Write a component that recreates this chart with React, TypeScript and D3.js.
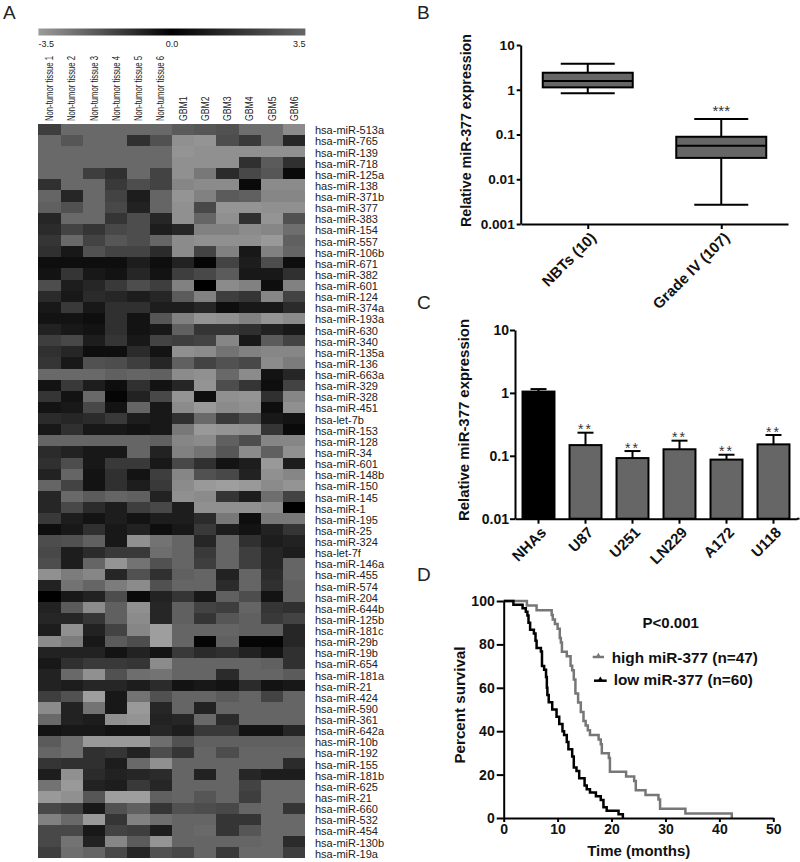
import React, { useRef, useEffect } from "react";
import * as d3 from "d3";

// Panel A: heatmap, cell levels (grey level of every cell)
const columnLabels = [
  "Non-tumor tissue 1", "Non-tumor tissue 2", "Non-tumor tissue 3",
  "Non-tumor tissue 4", "Non-tumor tissue 5", "Non-tumor tissue 6",
  "GBM1", "GBM2", "GBM3", "GBM4", "GBM5", "GBM6",
];
const rowLabels = [
  "hsa-miR-513a", "hsa-miR-765", "hsa-miR-139", "hsa-miR-718", "hsa-miR-125a", "has-miR-138",
  "hsa-miR-371b", "hsa-miR-377", "hsa-miR-383", "hsa-miR-154", "hsa-miR-557", "hsa-miR-106b",
  "hsa-miR-671", "hsa-miR-382", "hsa-miR-601", "hsa-miR-124", "hsa-miR-374a", "hsa-miR-193a",
  "hsa-miR-630", "hsa-miR-340", "hsa-miR-135a", "hsa-miR-136", "hsa-miR-663a", "hsa-miR-329",
  "hsa-miR-328", "hsa-miR-451", "hsa-let-7b", "hsa-miR-153", "hsa-miR-128", "hsa-miR-34",
  "hsa-miR-601", "hsa-miR-148b", "hsa-miR-150", "hsa-miR-145", "hsa-miR-1", "hsa-miR-195",
  "hsa-miR-25", "hsa-miR-324", "hsa-let-7f", "hsa-miR-146a", "hsa-miR-455", "hsa-miR-574",
  "hsa-miR-204", "hsa-miR-644b", "hsa-miR-125b", "hsa-miR-181c", "hsa-miR-29b", "hsa-miR-19b",
  "hsa-miR-654", "hsa-miR-181a", "hsa-miR-21", "hsa-miR-424", "hsa-miR-590", "hsa-miR-361",
  "hsa-miR-642a", "has-miR-10b", "hsa-miR-192", "hsa-miR-155", "hsa-miR-181b", "hsa-miR-625",
  "has-miR-21", "hsa-miR-660", "hsa-miR-532", "hsa-miR-454", "hsa-miR-130b", "hsa-miR-19a",
];
const heatRows = [
  [65, 110, 110, 110, 110, 110, 95, 90, 85, 115, 115, 145],
  [110, 90, 110, 110, 50, 85, 150, 155, 80, 60, 115, 40],
  [110, 110, 110, 110, 110, 110, 155, 150, 150, 150, 150, 150],
  [110, 110, 110, 110, 110, 110, 150, 150, 150, 50, 95, 50],
  [110, 110, 65, 50, 110, 70, 150, 125, 45, 75, 90, 10],
  [50, 110, 110, 60, 80, 70, 140, 145, 145, 10, 145, 145],
  [105, 40, 110, 70, 30, 105, 155, 135, 95, 100, 140, 140],
  [100, 85, 110, 75, 35, 105, 150, 75, 155, 155, 150, 150],
  [40, 110, 110, 55, 80, 40, 150, 105, 150, 50, 155, 85],
  [45, 70, 55, 75, 80, 30, 40, 135, 135, 145, 140, 115],
  [55, 110, 70, 90, 80, 105, 145, 150, 150, 150, 160, 100],
  [50, 25, 85, 70, 70, 45, 145, 70, 135, 25, 135, 105],
  [15, 15, 15, 15, 30, 15, 35, 5, 70, 30, 80, 15],
  [20, 55, 25, 20, 40, 20, 65, 75, 95, 25, 25, 50],
  [80, 30, 40, 60, 80, 65, 135, 0, 145, 135, 15, 135],
  [45, 25, 45, 40, 30, 40, 95, 135, 65, 55, 140, 70],
  [25, 60, 25, 50, 50, 30, 30, 40, 15, 25, 25, 45],
  [20, 20, 15, 50, 20, 90, 135, 155, 150, 135, 155, 145],
  [35, 25, 20, 50, 20, 25, 100, 55, 55, 50, 35, 25],
  [65, 75, 30, 55, 25, 70, 65, 70, 140, 25, 95, 70],
  [50, 40, 15, 15, 45, 20, 150, 145, 120, 135, 140, 140],
  [55, 25, 85, 80, 65, 40, 100, 70, 85, 75, 145, 130],
  [110, 110, 110, 100, 105, 100, 145, 150, 110, 145, 20, 40],
  [20, 60, 30, 15, 50, 20, 40, 155, 80, 55, 15, 70],
  [55, 20, 110, 5, 35, 75, 155, 15, 150, 155, 50, 140],
  [20, 25, 75, 20, 105, 25, 145, 160, 145, 150, 15, 150],
  [45, 40, 45, 60, 30, 25, 50, 110, 60, 80, 25, 20],
  [25, 50, 25, 25, 20, 25, 125, 160, 155, 150, 55, 10],
  [105, 105, 105, 105, 105, 100, 140, 145, 100, 80, 140, 140],
  [45, 35, 25, 25, 105, 35, 135, 120, 90, 145, 100, 150],
  [50, 80, 25, 60, 60, 25, 75, 50, 20, 30, 160, 30],
  [35, 105, 20, 50, 20, 65, 140, 85, 75, 35, 150, 140],
  [105, 70, 20, 50, 30, 60, 145, 160, 165, 160, 145, 155],
  [40, 110, 95, 105, 100, 35, 150, 145, 55, 30, 115, 70],
  [40, 75, 45, 30, 65, 75, 30, 150, 150, 150, 145, 0],
  [60, 30, 20, 30, 20, 30, 30, 45, 125, 15, 125, 125],
  [15, 25, 50, 25, 35, 15, 25, 60, 30, 20, 35, 55],
  [80, 85, 100, 25, 150, 120, 105, 40, 105, 50, 30, 35],
  [75, 30, 45, 60, 60, 115, 105, 60, 105, 65, 40, 30],
  [80, 30, 105, 155, 120, 85, 105, 65, 105, 65, 40, 105],
  [150, 130, 140, 40, 85, 50, 100, 105, 35, 105, 45, 105],
  [35, 120, 105, 130, 145, 85, 105, 105, 45, 105, 50, 100],
  [0, 25, 35, 80, 10, 35, 55, 25, 100, 80, 20, 100],
  [35, 95, 145, 100, 150, 40, 100, 70, 65, 105, 55, 50],
  [40, 40, 55, 100, 145, 40, 100, 55, 90, 100, 60, 70],
  [30, 150, 35, 70, 140, 165, 105, 105, 105, 100, 100, 40],
  [145, 130, 25, 95, 80, 165, 105, 5, 100, 5, 5, 40],
  [35, 35, 35, 20, 35, 20, 60, 45, 50, 35, 20, 50],
  [25, 50, 60, 60, 55, 145, 105, 105, 105, 105, 100, 50],
  [35, 110, 150, 85, 115, 120, 105, 105, 45, 105, 105, 95],
  [35, 30, 40, 40, 30, 45, 20, 25, 20, 45, 20, 25],
  [65, 85, 165, 25, 120, 85, 105, 105, 95, 105, 70, 105],
  [145, 35, 120, 25, 160, 40, 105, 35, 105, 105, 105, 105],
  [110, 35, 30, 150, 155, 35, 40, 110, 45, 105, 105, 105],
  [20, 25, 25, 20, 20, 40, 30, 60, 60, 20, 20, 40],
  [95, 115, 160, 160, 160, 115, 85, 100, 100, 100, 100, 100],
  [105, 115, 50, 55, 35, 80, 55, 105, 80, 105, 105, 105],
  [55, 50, 50, 30, 110, 150, 105, 105, 105, 105, 105, 45],
  [30, 150, 45, 35, 40, 45, 105, 35, 105, 40, 30, 30],
  [120, 160, 35, 30, 60, 40, 105, 105, 105, 70, 110, 110],
  [160, 150, 90, 165, 165, 100, 105, 90, 105, 65, 110, 110],
  [75, 65, 25, 85, 100, 55, 85, 80, 75, 105, 110, 55],
  [135, 110, 160, 55, 135, 115, 105, 105, 55, 55, 110, 110],
  [75, 75, 25, 70, 65, 30, 105, 110, 55, 90, 110, 110],
  [75, 120, 35, 140, 95, 155, 105, 105, 105, 105, 110, 45],
  [65, 115, 105, 75, 40, 85, 75, 105, 60, 110, 110, 65],
];
const colorBarStops = [-3.5, 0, 3.5];
const colorBarLabels = ["-3.5", "0.0", "3.5"];

// Panel B: box plot
const boxGroups = ["NBTs (10)", "Grade IV (107)"];
const boxLow = [0.83, 0.0027];
const boxQ1 = [1.13, 0.03];
const boxMedian = [1.57, 0.056];
const boxQ3 = [2.4, 0.089];
const boxHigh = [3.8, 0.222];

// Panel C: bars
const cellLines = ["NHAs", "U87", "U251", "LN229", "A172", "U118"];
const cellValues = [1.05, 0.148, 0.092, 0.127, 0.087, 0.152];
const cellErrorTops = [1.15, 0.233, 0.119, 0.174, 0.104, 0.214];
const cellStars = ["", "**", "**", "**", "**", "**"];

// Panel D: survival curves
const highTimes = [0, 4.3, 6.1, 8.9, 9.1, 9.5, 10, 10.4, 10.6, 10.8, 11.7, 12.4, 12.7, 13, 13.3, 13.8, 14.3, 14.8, 15.2, 15.6, 16, 17.6, 18, 18.2, 19.5, 19.7, 22.7, 24.2, 24.5, 26.3, 28.7, 29, 33.7, 42.3];
const highSurvival = [100, 97.9, 95.7, 93.6, 91.5, 89.4, 87.2, 83, 80.9, 76.6, 74.5, 70.2, 68.1, 63.8, 57.4, 53.2, 48.9, 44.7, 42.6, 40.4, 38.3, 36.2, 34, 29.8, 27.7, 21.3, 19.1, 17, 12.8, 10.6, 8.5, 4.3, 2.1, 0];
const lowTimes = [0, 1.8, 3.5, 4.1, 4.4, 4.6, 4.9, 5.6, 5.9, 6.1, 6.9, 7.1, 7.5, 7.85, 8, 8.1, 8.35, 9, 9.8, 10.3, 10.9, 11.2, 11.7, 12, 12.7, 13, 13.5, 14, 15, 15.4, 16, 17.1, 18, 18.5, 19.1, 21.3, 22.1];
const lowSurvival = [100, 98.3, 96.7, 95, 93.3, 90, 86.7, 85, 81.7, 78.3, 76.7, 70, 68.3, 65, 60, 56.7, 53.3, 50, 46.7, 43.3, 40, 38.3, 35, 31.7, 28.3, 23.3, 21.7, 18.3, 15, 13.3, 11.7, 10, 8.3, 5, 3.3, 1.7, 0];

const FONT = "'Liberation Sans', Arial, sans-serif";

const App = () => {
  const svgRef = useRef<SVGSVGElement>(null);

  useEffect(() => {
    const svg = d3.select(svgRef.current);
    svg.selectAll("*").remove();
    svg.attr("font-family", FONT);

    // panel letters
    const letters: [string, number, number][] = [["A", 3, 19], ["B", 417, 18.5], ["C", 417, 309], ["D", 417, 581]];
    svg.selectAll(".letter").data(letters).join("text")
      .attr("class", "letter")
      .attr("x", (d) => d[1]).attr("y", (d) => d[2])
      .attr("font-size", 19).attr("fill", "#222")
      .text((d) => d[0]);

    drawHeatmap(svg);
    drawBoxes(svg);
    drawBars(svg);
    drawSurvival(svg);
  }, []);

  return <svg ref={svgRef} width={800} height={862} style={{ position: "absolute", left: 0, top: 0, background: "#fff" }} />;
};

function drawHeatmap(svg) {
  const x = d3.scaleBand().domain(columnLabels).range([38.4, 305.4]);
  const y = d3.scaleBand().domain(d3.range(rowLabels.length).map(String)).range([123.7, 858.2]);
  const shade = d3.scaleLinear().domain([0, 165]).range(["#000000", "#9e9e9e"]);

  // colour bar
  const barColor = d3.scaleLinear().domain(colorBarStops).range(["#9c9c9c", "#000000", "#666666"]);
  const barX = d3.scaleLinear().domain([-3.5, 3.5]).range([38.4, 305.4]);
  const grad = svg.append("defs").append("linearGradient").attr("id", "bar");
  grad.selectAll("stop").data(colorBarStops).join("stop")
    .attr("offset", (d) => (d + 3.5) / 7)
    .attr("stop-color", (d) => barColor(d));
  svg.append("rect")
    .attr("x", barX(-3.5)).attr("y", 28.5)
    .attr("width", barX(3.5) - barX(-3.5)).attr("height", 7)
    .attr("fill", "url(#bar)");
  svg.selectAll(".barlabel").data(colorBarStops).join("text")
    .attr("class", "barlabel")
    .attr("x", (d) => barX(d))
    .attr("y", 46.5)
    .attr("font-size", 9).attr("fill", "#222")
    .attr("text-anchor", (d) => (d < 0 ? "start" : d > 0 ? "end" : "middle"))
    .text((d, i) => colorBarLabels[i]);

  // cells
  const g = svg.append("g").attr("shape-rendering", "crispEdges");
  heatRows.forEach((row, r) => {
    g.selectAll(`.r${r}`).data(row).join("rect")
      .attr("class", `r${r}`)
      .attr("x", (d, i) => x(columnLabels[i]))
      .attr("y", y(String(r)))
      .attr("width", x.bandwidth())
      .attr("height", y.bandwidth())
      .attr("fill", (d) => shade(d));
  });

  // column labels, squeezed along the text like the original
  svg.selectAll(".collabel").data(columnLabels).join("text")
    .attr("class", "collabel")
    .attr("transform", (d) => `translate(${x(d) + x.bandwidth() / 2 + 3.5},121) rotate(-90)`)
    .attr("font-size", 11).attr("fill", "#222")
    .attr("textLength", (d) => (d.startsWith("GBM") ? 24.5 : 65))
    .attr("lengthAdjust", "spacingAndGlyphs")
    .text((d) => d);

  svg.selectAll(".rowlabel").data(rowLabels).join("text")
    .attr("class", "rowlabel")
    .attr("x", 315)
    .attr("y", (d, i) => y(String(i)) + y.bandwidth() / 2 + 5)
    .attr("font-size", 11).attr("fill", "#222")
    .text((d) => d);
}

// shared axis look for the graphpad style panels
function styleAxis(g, fontSize = 14) {
  g.attr("font-family", FONT).attr("font-size", fontSize).attr("font-weight", "bold");
  g.selectAll("path,line").attr("stroke", "#000").attr("stroke-width", 2);
  g.selectAll("text").attr("fill", "#111");
}

function rotateLabels(g, dx, dy) {
  g.attr("font-size", 15);
  g.selectAll("text")
    .attr("x", 0).attr("y", 0).attr("dy", "0.35em")
    .attr("text-anchor", "end")
    .attr("transform", `translate(${dx},${dy}) rotate(-45)`);
}

function yTitle(svg, text, x, cy, len, size = 14.2) {
  svg.append("text")
    .attr("transform", `translate(${x},${cy}) rotate(-90)`)
    .attr("text-anchor", "middle")
    .attr("font-size", size).attr("font-weight", "bold").attr("fill", "#111")
    .attr("textLength", len).attr("lengthAdjust", "spacingAndGlyphs")
    .text(text);
}

function drawBoxes(svg) {
  const y = d3.scaleLog().domain([0.001, 10]).range([224, 45]);
  const x = d3.scalePoint().domain(boxGroups).range([521, 788]).padding(0.5);
  const boxW = 90;
  const capHalf = 27;

  const g = svg.append("g");
  boxGroups.forEach((name, i) => {
    const cx = x(name);
    g.append("line").attr("x1", cx).attr("x2", cx)
      .attr("y1", y(boxHigh[i])).attr("y2", y(boxLow[i]))
      .attr("stroke", "#000").attr("stroke-width", 2);
    [boxHigh[i], boxLow[i]].forEach((v) => {
      g.append("line").attr("x1", cx - capHalf).attr("x2", cx + capHalf)
        .attr("y1", y(v)).attr("y2", y(v))
        .attr("stroke", "#000").attr("stroke-width", 2);
    });
    g.append("rect").attr("x", cx - boxW / 2).attr("width", boxW)
      .attr("y", y(boxQ3[i])).attr("height", y(boxQ1[i]) - y(boxQ3[i]))
      .attr("fill", "#666").attr("stroke", "#000").attr("stroke-width", 2);
    g.append("line").attr("x1", cx - boxW / 2).attr("x2", cx + boxW / 2)
      .attr("y1", y(boxMedian[i])).attr("y2", y(boxMedian[i]))
      .attr("stroke", "#000").attr("stroke-width", 2);
  });

  g.append("text").attr("x", x(boxGroups[1])).attr("y", 115.5)
    .attr("text-anchor", "middle").attr("font-size", 15).attr("fill", "#333")
    .text("***");

  const yAxis = svg.append("g").attr("transform", "translate(520.7,0)")
    .call(d3.axisLeft(y).tickValues([10, 1, 0.1, 0.01, 0.001]).tickFormat((d) => String(d)).tickSize(4).tickPadding(2).tickSizeOuter(0));
  styleAxis(yAxis, 13.6);
  const xAxis = svg.append("g").attr("transform", "translate(0,224)")
    .call(d3.axisBottom(x).tickSize(5).tickSizeOuter(0));
  styleAxis(xAxis);
  rotateLabels(xAxis, 5, 11);

  yTitle(svg, "Relative miR-377 expression", 471, 130.5, 193);
}

function drawBars(svg) {
  const y = d3.scaleLog().domain([0.01, 10]).range([518.7, 330]);
  const x = d3.scaleBand().domain(cellLines).range([515, 797]).paddingInner(0.32).paddingOuter(0.16);
  const g = svg.append("g");
  const capHalf = 8;

  cellLines.forEach((name, i) => {
    const cx = x(name) + x.bandwidth() / 2;
    g.append("line").attr("x1", cx).attr("x2", cx)
      .attr("y1", y(cellValues[i])).attr("y2", y(cellErrorTops[i]))
      .attr("stroke", "#000").attr("stroke-width", 2);
    g.append("line").attr("x1", cx - capHalf).attr("x2", cx + capHalf)
      .attr("y1", y(cellErrorTops[i])).attr("y2", y(cellErrorTops[i]))
      .attr("stroke", "#000").attr("stroke-width", 2);
    g.append("rect").attr("x", x(name)).attr("width", x.bandwidth())
      .attr("y", y(cellValues[i])).attr("height", y(0.01) - y(cellValues[i]))
      .attr("fill", i === 0 ? "#000" : "#666").attr("stroke", "#000").attr("stroke-width", 2);
    g.append("text").attr("x", cx).attr("y", y(cellErrorTops[i]) + 1.5)
      .attr("text-anchor", "middle").attr("font-size", 14).attr("fill", "#333")
      .attr("letter-spacing", 2)
      .text(cellStars[i]);
  });

  const yAxis = svg.append("g").attr("transform", "translate(515,0)")
    .call(d3.axisLeft(y).tickValues([10, 1, 0.1, 0.01]).tickFormat((d) => String(d)).tickSize(5).tickPadding(1).tickSizeOuter(0));
  styleAxis(yAxis);
  const xAxis = svg.append("g").attr("transform", "translate(0,518.7)")
    .call(d3.axisBottom(x).tickSize(5).tickSizeOuter(0));
  styleAxis(xAxis);
  rotateLabels(xAxis, 5, 11);
  svg.append("line").attr("x1", 797).attr("x2", 799.5).attr("y1", 518.7).attr("y2", 518.7)
    .attr("stroke", "#000").attr("stroke-width", 2);

  yTitle(svg, "Relative miR-377 expression", 469, 420, 202, 15);
}

function drawSurvival(svg) {
  const x = d3.scaleLinear().domain([0, 50]).range([503.7, 773.3]);
  const y = d3.scaleLinear().domain([0, 100]).range([818, 601]);
  const line = d3.line().curve(d3.curveStepAfter).x((d) => x(d[0])).y((d) => y(d[1]));

  svg.append("path").attr("d", line(d3.zip(highTimes, highSurvival)))
    .attr("fill", "none").attr("stroke", "#777").attr("stroke-width", 2.5);
  svg.append("path").attr("d", line(d3.zip(lowTimes, lowSurvival)))
    .attr("fill", "none").attr("stroke", "#000").attr("stroke-width", 2.5);

  const yAxis = svg.append("g").attr("transform", "translate(503.7,0)")
    .call(d3.axisLeft(y).tickValues([0, 20, 40, 60, 80, 100]).tickSize(7).tickPadding(2).tickSizeOuter(0));
  styleAxis(yAxis);
  const xAxis = svg.append("g").attr("transform", "translate(0,818)")
    .call(d3.axisBottom(x).tickValues([0, 10, 20, 30, 40, 50]).tickSize(4).tickPadding(2).tickSizeOuter(0));
  styleAxis(xAxis);

  yTitle(svg, "Percent survival", 465, 705, 117, 15);
  svg.append("text").attr("x", 638.7).attr("y", 856).attr("text-anchor", "middle")
    .attr("font-size", 15).attr("font-weight", "bold").attr("fill", "#111")
    .text("Time (months)");
  svg.append("text").attr("x", 670.7).attr("y", 628).attr("text-anchor", "middle")
    .attr("font-size", 15).attr("font-weight", "bold").attr("fill", "#111")
    .text("P<0.001");

  const legend = [
    { label: "high miR-377 (n=47)", color: "#777", x0: 592.7, x1: 604, tx: 611.7, ty: 662.7, ly: 657, len: 146.3 },
    { label: "low miR-377 (n=60)", color: "#000", x0: 594, x1: 606.7, tx: 613.7, ty: 685, ly: 680.7, len: 139.3 },
  ];
  legend.forEach((d) => {
    svg.append("line").attr("x1", d.x0).attr("x2", d.x1).attr("y1", d.ly).attr("y2", d.ly)
      .attr("stroke", d.color).attr("stroke-width", 2.5);
    svg.append("path")
      .attr("d", d3.symbol(d3.symbolTriangle, 14)())
      .attr("transform", `translate(${(d.x0 + d.x1) / 2},${d.ly - 1})`)
      .attr("fill", d.color);
    svg.append("text").attr("x", d.tx).attr("y", d.ty)
      .attr("font-size", 15.3).attr("font-weight", "bold").attr("fill", "#111")
      .attr("textLength", d.len).attr("lengthAdjust", "spacingAndGlyphs")
      .text(d.label);
  });
}

export default App;
